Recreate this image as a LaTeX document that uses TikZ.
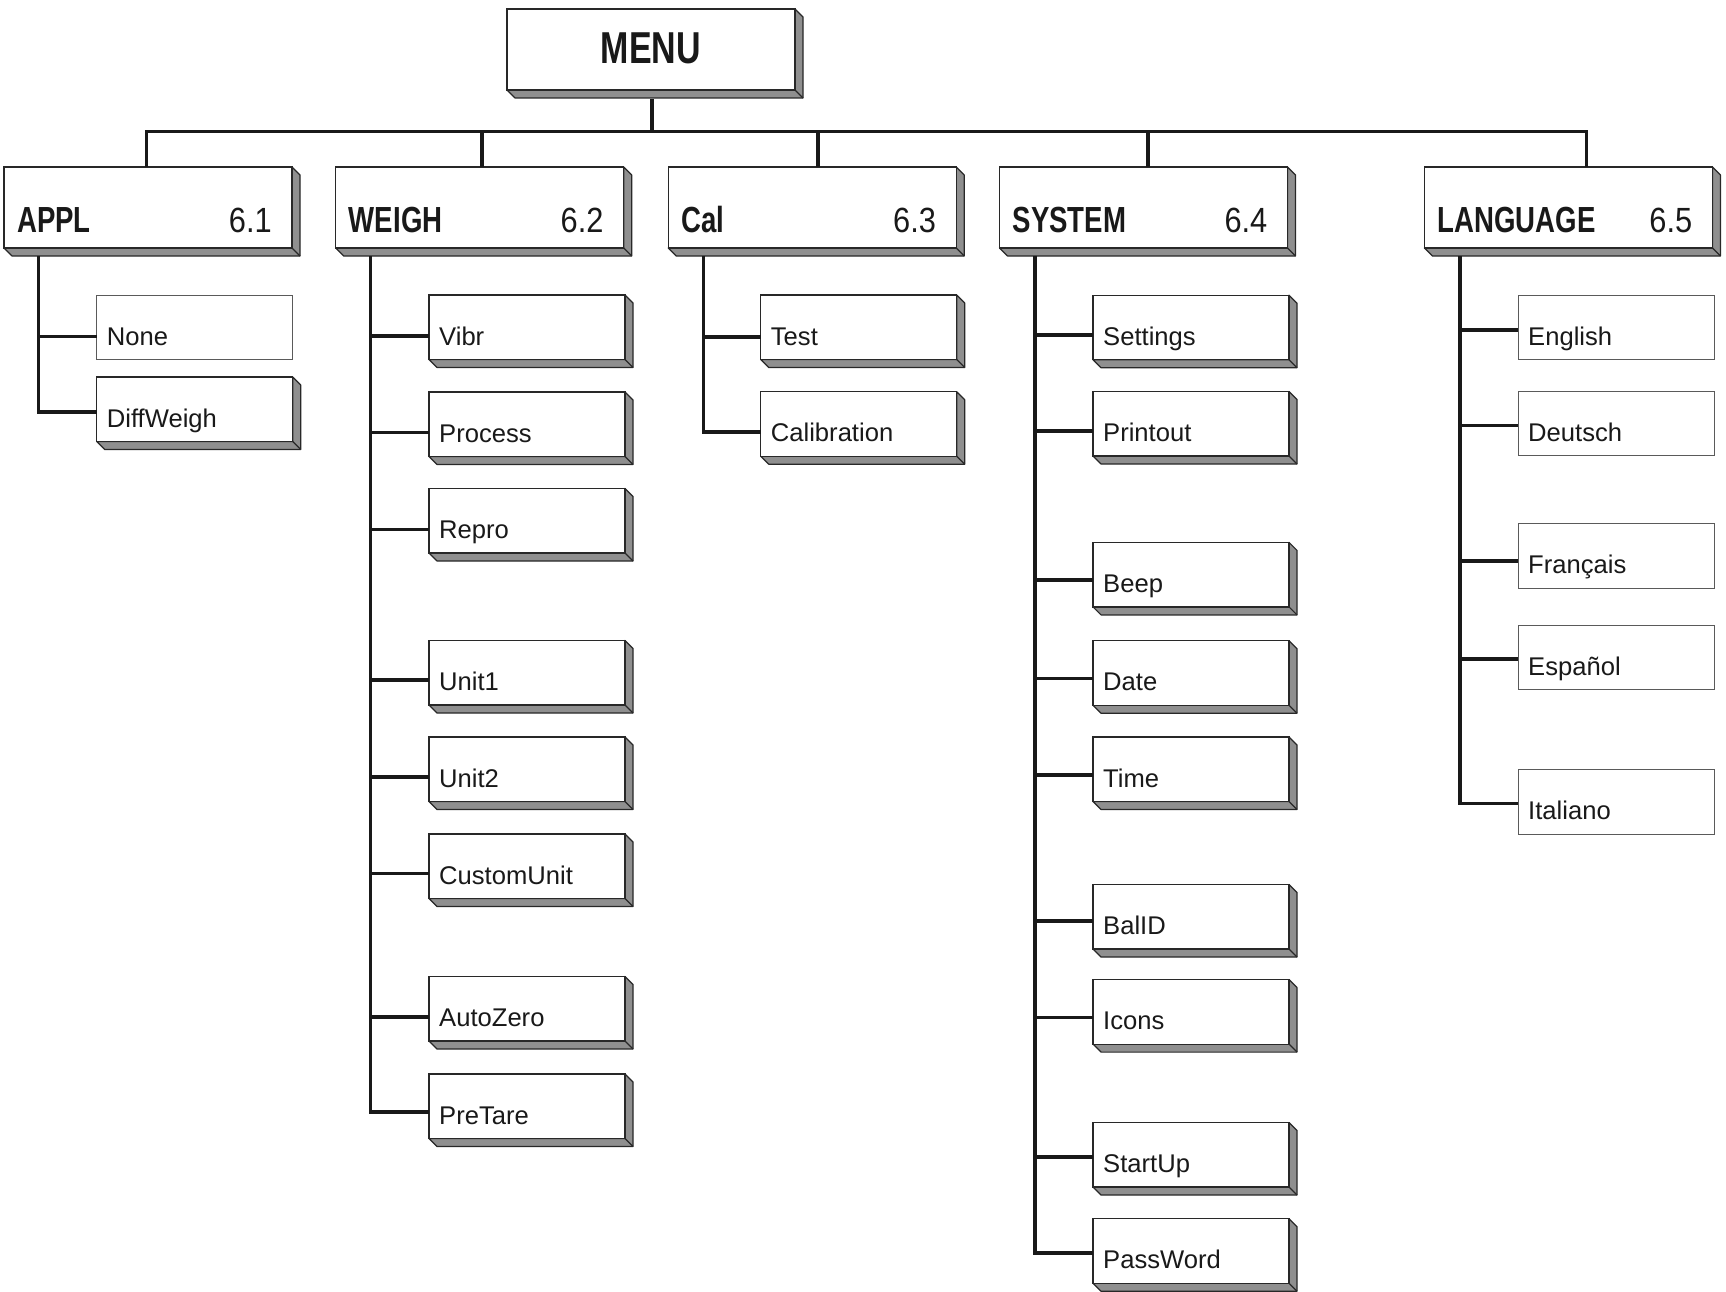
\documentclass[tikz,border=0pt]{standalone}
\usepackage{fontspec}
\setmainfont{Liberation Sans}
\newfontfamily\hdfont[FakeStretch=0.76]{Liberation Sans}
\newfontfamily\numfont[FakeStretch=0.88]{Liberation Sans}
\definecolor{sidegray}{RGB}{143,143,143}
\definecolor{edgecol}{RGB}{40,40,40}
\definecolor{flatcol}{RGB}{90,90,90}
\tikzset{
  conn/.style={line width=3.6pt, draw=black!90, line join=miter},
  face/.style={draw=edgecol, line width=1.2pt, fill=white, inner sep=0pt, outer sep=0pt},
  side/.style={draw=edgecol, line width=1.2pt, fill=sidegray, line join=round},
  flatbox/.style={draw=flatcol, line width=1pt, fill=white, inner sep=0pt, outer sep=0pt},
  itemtxt/.style={font=\fontsize{25.6}{30}\selectfont, anchor=base west, inner sep=0pt, text=black!90},
  hdtxt/.style={font=\fontsize{36.3}{40}\selectfont\hdfont\bfseries, anchor=base west, inner sep=0pt, text=black!90},
  numtxt/.style={font=\fontsize{35}{40}\selectfont\numfont, anchor=base east, inner sep=0pt, text=black!90},
}
% solid 3D box: name, left, top, width, height
\newcommand\solidbox[5]{%
  \filldraw[side] ({#2+#4},{#3}) -- ++(8,8) -- ++(0,{#5}) -- ++({-#4},0) -- ++(-8,-8) -- ({#2+#4},{#3+#5}) -- cycle;
  \draw[side] ({#2+#4},{#3+#5}) -- ++(8,8);
  \node[face, minimum width=#4pt, minimum height=#5pt, anchor=north west] (#1) at (#2,#3) {};
}
% solid item: name, left, top, text, trunk x, connector y
\newcommand\sitem[6]{%
  \solidbox{#1}{#2}{#3}{196}{64.5}
  \node[itemtxt] (#1t) at ({#2+10},{#3+50}) {#4};
  \coordinate (#1c) at (#5,#6);
  \draw[conn] (#1c) -- (#1c -| #1.west);
}
% flat item
\newcommand\fitem[6]{%
  \node[flatbox, minimum width=196pt, minimum height=64.5pt, anchor=north west] (#1) at (#2,#3) {};
  \node[itemtxt] (#1t) at ({#2+10},{#3+50}) {#4};
  \coordinate (#1c) at (#5,#6);
  \draw[conn] (#1c) -- (#1c -| #1.west);
}
% header: name, left, label, number
\newcommand\header[4]{%
  \solidbox{#1}{#2}{167}{288}{81}
  \node[hdtxt] (#1l) at ({#2+13},233) {#3};
  \node[numtxt] (#1n) at ({#2+268},233) {#4};
}
\begin{document}
\begin{tikzpicture}[x=1pt,y=-1pt]
\useasboundingbox (0,0) rectangle (1726,1292);
% MENU
\solidbox{menu}{507}{9}{288}{81}
\node[font=\fontsize{44.7}{50}\selectfont\hdfont\bfseries, inner sep=0pt, text=black!90] (menut) at (651,48) {MENU};
% headers
\header{appl}{4}{APPL}{6.1}
\header{weigh}{335.7}{WEIGH}{6.2}
\header{cal}{668.2}{Cal}{6.3}
\header{sys}{999.5}{SYSTEM}{6.4}
\header{lang}{1424.4}{LANGUAGE}{6.5}
% bar and drops
\coordinate (dA) at (146.4,131.5);
\coordinate (dB) at (482.2,131.5);
\coordinate (dC) at (817.9,131.5);
\coordinate (dD) at (1148.1,131.5);
\coordinate (dE) at (1586.3,131.5);
\coordinate (mstem) at (651.7,99);
\draw[conn] (mstem) -- (mstem |- dA);
\draw[conn] (dA |- appl.north) -- (dA) -- (dE) -- (dE |- lang.north);
\draw[conn] (dB) -- (dB |- weigh.north);
\draw[conn] (dC) -- (dC |- cal.north);
\draw[conn] (dD) -- (dD |- sys.north);
% APPL
\fitem{none}{96.7}{295}{None}{38.3}{336.5}
\sitem{diff}{96.7}{377}{DiffWeigh}{38.3}{412}
\coordinate (tA) at (38.3,256);
\draw[conn] (tA) -- (tA |- diffc) -- (diffc -| diff.west);
% WEIGH
\sitem{vibr}{429}{295}{Vibr}{370.5}{336}
\sitem{proc}{429}{392}{Process}{370.5}{432.5}
\sitem{repro}{429}{488.5}{Repro}{370.5}{529.5}
\sitem{unita}{429}{640.5}{Unit1}{370.5}{680}
\sitem{unitb}{429}{737}{Unit2}{370.5}{777}
\sitem{cust}{429}{834}{CustomUnit}{370.5}{873.5}
\sitem{azero}{429}{976.5}{AutoZero}{370.5}{1017}
\sitem{ptare}{429}{1074}{PreTare}{370.5}{1112}
\coordinate (tB) at (370.5,256);
\draw[conn] (tB) -- (tB |- ptarec) -- (ptarec -| ptare.west);
% Cal
\sitem{test}{760.7}{295}{Test}{703.3}{336.7}
\sitem{calib}{760.7}{391.7}{Calibration}{703.3}{431.7}
\coordinate (tC) at (703.3,256);
\draw[conn] (tC) -- (tC |- calibc) -- (calibc -| calib.west);
% SYSTEM
\sitem{sett}{1093}{295.2}{Settings}{1035}{335}
\sitem{print}{1093}{391.5}{Printout}{1035}{430.7}
\sitem{beep}{1093}{542.4}{Beep}{1035}{580.2}
\sitem{date}{1093}{640.7}{Date}{1035}{678.6}
\sitem{time}{1093}{737}{Time}{1035}{774.9}
\sitem{balid}{1093}{884.5}{BalID}{1035}{921.1}
\sitem{icons}{1093}{979.6}{Icons}{1035}{1017.4}
\sitem{start}{1093}{1122.5}{StartUp}{1035}{1157}
\sitem{pass}{1093}{1218.7}{PassWord}{1035}{1253}
\coordinate (tD) at (1035,256);
\draw[conn] (tD) -- (tD |- passc) -- (passc -| pass.west);
% LANGUAGE
\fitem{eng}{1518}{295}{English}{1459.7}{330.2}
\fitem{deu}{1518}{391.2}{Deutsch}{1459.7}{425.6}
\fitem{fra}{1518}{523.7}{Français}{1459.7}{561}
\fitem{esp}{1518}{625.2}{Español}{1459.7}{659.2}
\fitem{ita}{1518}{769.8}{Italiano}{1459.7}{803.4}
\coordinate (tE) at (1459.7,256);
\draw[conn] (tE) -- (tE |- itac) -- (itac -| ita.west);
\end{tikzpicture}
\end{document}
